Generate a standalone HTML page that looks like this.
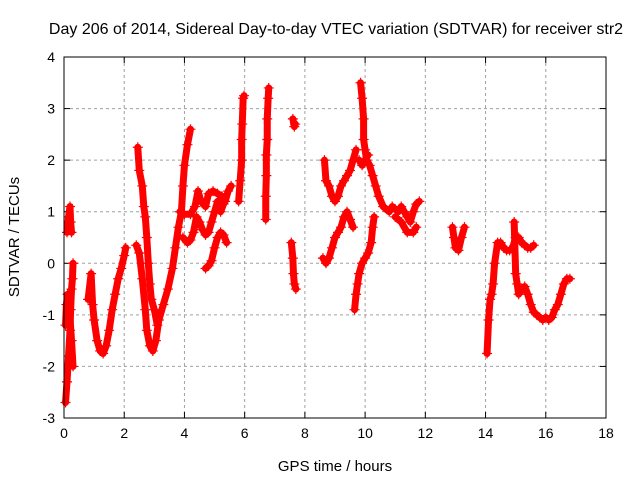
<!DOCTYPE html>
<html><head><meta charset="utf-8"><style>
body{margin:0;background:#fff;}
svg{display:block;font-family:"Liberation Sans",sans-serif;}
</style></head><body>
<svg id="chart" width="640" height="480" viewBox="0 0 640 480" xmlns="http://www.w3.org/2000/svg">
<rect width="640" height="480" fill="#fff"/>
<text x="336" y="34" font-size="16" text-anchor="middle" fill="#000">Day 206 of 2014, Sidereal Day-to-day VTEC variation (SDTVAR) for receiver str2</text>
<text x="335" y="471" font-size="15" text-anchor="middle">GPS time / hours</text>
<text x="0" y="0" font-size="15" text-anchor="middle" transform="translate(19,237) rotate(-90)">SDTVAR / TECUs</text>
<g id="grid"></g>
<g id="marks"></g>
<rect x="64" y="57" width="542" height="361" fill="none" stroke="#000" stroke-width="1"/>
</svg>
<script>
const xTicks=[0,2,4,6,8,10,12,14,16,18];
const yTicks=[-3,-2,-1,0,1,2,3,4];
const segA1=[[0.05,-2.7],[0.1,-2.3],[0.15,-1.8],[0.2,-1.3],[0.22,-0.9],[0.25,-0.5],[0.28,-0.3],[0.3,0.0]];
const segA2=[[0.1,0.6],[0.15,0.9],[0.2,1.1],[0.22,0.8],[0.25,0.6]];
const segA3=[[0.05,-1.2],[0.08,-0.8],[0.12,-0.6],[0.18,-0.9],[0.25,-1.5],[0.3,-2.0]];
const segB=[[0.8,-0.7],[0.9,-0.2],[0.95,-0.8],[1.0,-1.1],[1.1,-1.5],[1.2,-1.7],[1.3,-1.75],[1.4,-1.6],[1.5,-1.3],[1.6,-0.9],[1.7,-0.6],[1.8,-0.3],[1.9,-0.1],[2.0,0.15],[2.05,0.3]];
const segC1=[[2.45,2.25],[2.5,1.8],[2.6,1.5],[2.65,1.1],[2.7,0.9],[2.75,0.5],[2.8,0.0],[2.85,-0.4],[2.9,-0.7],[3.0,-0.9],[3.1,-1.2]];
const segC2=[[2.4,0.35],[2.5,0.2],[2.6,-0.3],[2.7,-0.9],[2.75,-1.3],[2.85,-1.6],[2.95,-1.7],[3.05,-1.5],[3.15,-1.1],[3.3,-0.8],[3.45,-0.5],[3.6,-0.1],[3.7,0.3],[3.8,0.7],[3.9,1.0],[3.95,1.5],[4.0,1.9],[4.1,2.3],[4.2,2.6]];
const segD1=[[3.85,1.0],[4.0,0.95],[4.2,0.95],[4.35,1.1],[4.45,1.4],[4.55,1.2],[4.7,1.1],[4.8,1.35],[4.95,1.4],[5.1,1.35],[5.25,1.3],[5.35,1.2],[5.45,1.4],[5.55,1.5]];
const segD2=[[3.95,0.5],[4.1,0.4],[4.2,0.45],[4.3,0.6],[4.4,0.9],[4.5,0.8],[4.6,0.65],[4.7,0.55],[4.8,0.6],[4.9,0.8],[5.0,1.0],[5.1,1.2],[5.2,1.0],[5.3,1.15]];
const segD3=[[4.7,-0.1],[4.8,-0.05],[4.9,0.05],[5.0,0.3],[5.1,0.5],[5.2,0.6],[5.3,0.55],[5.4,0.4]];
const segD4=[[5.8,1.2],[5.85,1.6],[5.9,2.0],[5.9,2.4],[5.92,2.7],[5.95,3.2],[5.98,3.25]];
const segE=[[6.7,0.85],[6.7,1.3],[6.72,1.7],[6.72,2.1],[6.75,2.4],[6.75,2.8],[6.78,3.2],[6.8,3.4]];
const segF1=[[7.6,2.8],[7.65,2.65],[7.68,2.7]];
const segF2=[[7.55,0.4],[7.6,0.1],[7.62,-0.2],[7.65,-0.4],[7.7,-0.5]];
const segG1=[[8.65,2.0],[8.7,1.6],[8.8,1.5],[8.9,1.3],[9.0,1.2],[9.1,1.3],[9.2,1.5],[9.3,1.6],[9.4,1.7],[9.5,1.8],[9.6,2.0],[9.7,2.2]];
const segG2=[[8.6,0.1],[8.7,0.0],[8.8,0.1],[8.9,0.3],[9.0,0.5],[9.1,0.6],[9.2,0.7],[9.3,0.9],[9.4,1.0],[9.5,0.85],[9.6,0.7]];
const segH=[[9.65,-0.9],[9.7,-0.6],[9.75,-0.4],[9.8,-0.2],[9.9,0.0],[10.0,0.1],[10.1,0.2],[10.2,0.4],[10.25,0.7],[10.3,0.9]];
const segI1=[[9.85,3.5],[9.9,3.2],[9.95,2.8],[9.95,2.4],[10.0,2.2],[10.05,2.0],[10.15,1.9],[10.25,1.7],[10.35,1.5],[10.45,1.3],[10.6,1.1],[10.8,1.0],[10.9,1.1],[11.0,1.05],[11.1,1.0],[11.2,1.1],[11.3,1.0],[11.4,0.9],[11.5,0.8],[11.6,1.0],[11.7,1.15],[11.8,1.2]];
const segI2=[[11.0,0.9],[11.2,0.8],[11.4,0.6],[11.6,0.6],[11.7,0.7]];
const segI3=[[9.8,2.0],[9.9,1.9],[10.0,2.0],[10.1,2.1]];
const segJ=[[12.9,0.7],[12.95,0.5],[13.0,0.3],[13.1,0.25],[13.2,0.5],[13.3,0.7]];
const segK1=[[14.05,-1.75],[14.1,-1.1],[14.15,-0.7],[14.2,-0.6],[14.25,-0.4],[14.3,0.0],[14.4,0.4],[14.5,0.4],[14.6,0.3],[14.7,0.25],[14.8,0.25],[14.9,0.3],[15.0,0.5],[15.1,0.5],[15.2,0.4],[15.3,0.35],[15.4,0.3],[15.5,0.3],[15.6,0.35]];
const segK2=[[14.95,0.8],[15.0,-0.2],[15.05,-0.4],[15.1,-0.6],[15.2,-0.5],[15.3,-0.45],[15.4,-0.6],[15.5,-0.8],[15.6,-0.95],[15.7,-1.0],[15.8,-1.05],[15.9,-1.1],[16.0,-1.05],[16.1,-1.1],[16.2,-1.05],[16.3,-0.9],[16.4,-0.8],[16.5,-0.6],[16.6,-0.4],[16.7,-0.3],[16.8,-0.3]];
const segments=[segA1,segA2,segA3,segB,segC1,segC2,segD1,segD2,segD3,segD4,segE,segF1,segF2,segG1,segG2,segH,segI1,segI2,segI3,segJ,segK1,segK2];

const NS='http://www.w3.org/2000/svg';
const L=64,R=606,T=57,B=418;
function xs(v){return L+(v-0)/(18-0)*(R-L);}
function ys(v){return B-(v+3)/(4+3)*(B-T);}
const grid=document.getElementById('grid');
function mk(tag,attrs,parent){const e=document.createElementNS(NS,tag);for(const k in attrs)e.setAttribute(k,attrs[k]);parent.appendChild(e);return e;}
xTicks.forEach(t=>{
  const x=xs(t);
  if(t>0&&t<18){const g=mk('line',{x1:x,x2:x,y1:T,y2:B,stroke:'#a0a0a0','stroke-dasharray':'3,3'},grid);
  
  }
  mk('line',{x1:x,x2:x,y1:B,y2:B-6,stroke:'#000'},grid);
  mk('line',{x1:x,x2:x,y1:T,y2:T+6,stroke:'#000'},grid);
  const lb=mk('text',{x:x,y:B+20,'font-size':14,'text-anchor':'middle'},grid);
  lb.textContent=t;
  
  
});
yTicks.forEach(t=>{
  const y=ys(t);
  if(t>-3&&t<4){const g=mk('line',{x1:L,x2:R,y1:y,y2:y,stroke:'#a0a0a0','stroke-dasharray':'3,3'},grid);
  
  }
  mk('line',{x1:L,x2:L+6,y1:y,y2:y,stroke:'#000'},grid);
  mk('line',{x1:R,x2:R-6,y1:y,y2:y,stroke:'#000'},grid);
  const lb=mk('text',{x:L-9,y:y+5,'font-size':14,'text-anchor':'end'},grid);
  lb.textContent=t;
  
  
});
const marks=document.getElementById('marks');
segments.forEach(seg=>{
  const pl=mk('polyline',{points:seg.map(p=>xs(p[0])+','+ys(p[1])).join(' '),fill:'none',stroke:'#ff0000','stroke-width':7,'stroke-linejoin':'round','stroke-linecap':'round'},marks);
  
  
  seg.forEach(p=>{
    const x=xs(p[0]),y=ys(p[1]);
    const m=mk('path',{d:`M${x-5},${y}H${x+5}M${x},${y-5}V${y+5}`,stroke:'#ff0000','stroke-width':1.2},marks);
    
    
  });
});
</script>
</body></html>
